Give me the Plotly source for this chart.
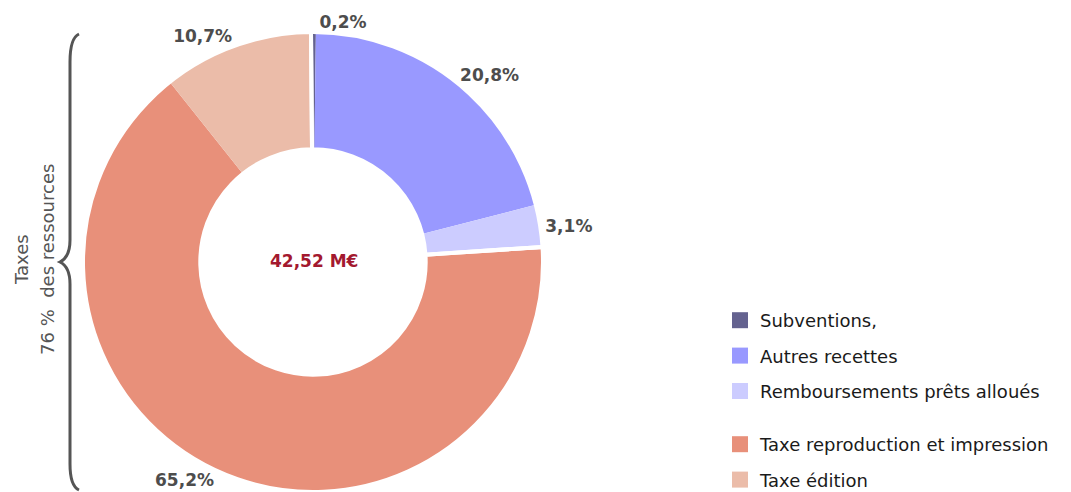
import plotly.graph_objects as go

# Ressources (en % du total)
labels = [
    "Subventions,",
    "Autres recettes",
    "Remboursements prêts alloués",
    "Taxe reproduction et impression",
    "Taxe édition",
]
values = [0.2, 20.8, 3.1, 65.2, 10.7]
colors = ["#64628f", "#9999ff", "#ccccff", "#e8907a", "#ebbca9"]
groups = ["autres", "autres", "autres", "taxes", "taxes"]

total_label = "42,52 M€"
brace_title = "Taxes"
brace_share = "76 %  des ressources"

W, H = 1071, 492
FONT = "DejaVu Sans, Verdana, sans-serif"


def px_x(x):
    return x / W


def px_y(y):
    return 1 - y / H


# 2px larger than the visible ring: the white separator stroke trims the edge
pie_domain = dict(x=[px_x(83), px_x(543)], y=[px_y(492), px_y(32)])
HOLE = 0.49

fig = go.Figure()

fig.add_trace(
    go.Pie(
        labels=labels,
        values=values,
        hole=HOLE,
        sort=False,
        direction="clockwise",
        rotation=0,
        domain=pie_domain,
        marker=dict(colors=colors, line=dict(width=0)),
        textposition="outside",
        texttemplate="%{value:.1f}%",
        textfont=dict(family=FONT, size=17, color="#4d4d4d", weight="bold"),
        hovertemplate="%{label}<br>%{value:.1f}%<extra></extra>",
        showlegend=False,
    )
)

# white separators between the two groups of resources
group_names = list(dict.fromkeys(groups))
group_sums = [sum(v for v, g in zip(values, groups) if g == name) for name in group_names]
fig.add_trace(
    go.Pie(
        labels=group_names,
        values=group_sums,
        hole=HOLE,
        sort=False,
        direction="clockwise",
        rotation=-0.5,
        domain=pie_domain,
        marker=dict(colors=["rgba(0,0,0,0)"] * 2, line=dict(color="white", width=4)),
        textinfo="none",
        hoverinfo="skip",
        showlegend=False,
    )
)

# legend entries, split into two blocks
for lab, col, grp in zip(labels, colors, groups):
    fig.add_trace(
        go.Scatter(
            x=[None],
            y=[None],
            mode="markers",
            name=lab,
            legendgroup=lab,
            legend="legend" if grp == "autres" else "legend2",
            marker=dict(symbol="square", size=17, color=col),
        )
    )

legend_style = dict(
    xanchor="left",
    yanchor="top",
    font=dict(family=FONT, size=18, color="#1a1a1a"),
    bgcolor="rgba(0,0,0,0)",
    tracegroupgap=9,
    itemclick=False,
)

rotated = dict(xref="paper", yref="paper", textangle=-90, showarrow=False,
               xanchor="center", yanchor="middle",
               font=dict(family=FONT, size=18, color="#555555"))

fig.update_layout(
    width=W,
    height=H,
    margin=dict(l=0, r=0, t=0, b=0, autoexpand=False),
    paper_bgcolor="white",
    plot_bgcolor="white",
    separators=", ",
    font=dict(family=FONT, color="#4d4d4d"),
    xaxis=dict(visible=False),
    yaxis=dict(visible=False),
    legend=dict(x=px_x(720), y=px_y(302), **legend_style),
    legend2=dict(x=px_x(720), y=px_y(426), **legend_style),
    annotations=[
        dict(
            text=total_label,
            x=px_x(314),
            y=px_y(261),
            xref="paper",
            yref="paper",
            xanchor="center",
            yanchor="middle",
            showarrow=False,
            font=dict(family=FONT, size=17, color="#a3192f", weight="bold"),
        ),
        dict(text=brace_title, x=px_x(21), y=px_y(260), **rotated),
        dict(text=brace_share, x=px_x(47), y=px_y(260), **rotated),
    ],
    shapes=[
        dict(
            type="path",
            xref="paper",
            yref="paper",
            path=(
                f"M{px_x(79)},{px_y(34)} Q{px_x(70)},{px_y(38)} {px_x(70)},{px_y(62)} "
                f"L{px_x(70)},{px_y(240)} Q{px_x(70)},{px_y(257)} {px_x(60)},{px_y(262)} "
                f"Q{px_x(70)},{px_y(267)} {px_x(70)},{px_y(284)} "
                f"L{px_x(70)},{px_y(464)} Q{px_x(70)},{px_y(486)} {px_x(79)},{px_y(490)}"
            ),
            line=dict(color="#555555", width=3),
        )
    ],
)

fig.write_html(
    "out.html",
    config={"displayModeBar": False},
    post_script="document.body.style.margin = '0';",
)
